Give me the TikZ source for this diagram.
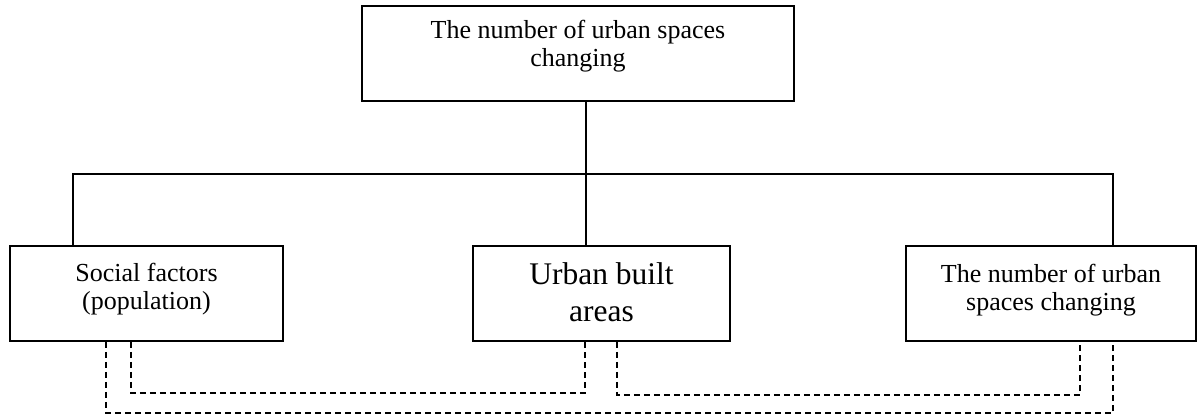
\documentclass[tikz,border=0pt]{standalone}
\usepackage{fontspec}
\setmainfont{Liberation Serif}
\begin{document}
\begin{tikzpicture}[x=1pt,y=-1pt,
  box/.style={draw, line width=1.6pt, rectangle, inner sep=0pt, minimum height=95pt},
  txt/.style={align=center, inner sep=0pt},
  small/.style={font=\fontsize{26}{28}\selectfont},
  big/.style={font=\fontsize{31.5}{37}\selectfont},
  tree/.style={line width=1.5pt},
  dashline/.style={line width=1.3pt, dash pattern=on 6pt off 4pt}]
\useasboundingbox (0,0) rectangle (1197,416);

% boxes
\node[box, minimum width=432pt] (top) at (578,53.5) {};
\node[box, minimum width=273pt] (left) at (146.5,293.5) {};
\node[box, minimum width=257pt] (mid) at (601.5,293.5) {};
\node[box, minimum width=290pt] (right) at (1051,293.5) {};

% labels
\node[txt, small] (topT) at (578,46) {The number of urban spaces\\changing};
\node[txt, small] (leftT) at (146.5,289.5) {Social factors\\(population)};
\node[txt, big] (midT) at (601.5,292) {Urban built\\areas};
\node[txt, small] (rightT) at (1051,290) {The number of urban\\spaces changing};

% solid tree connectors
\coordinate (hL) at (73,174);
\coordinate (hM) at (586,174);
\coordinate (hR) at (1113,174);
\draw[tree] (top.south -| hM) -- (mid.north -| hM);
\draw[tree] (left.north -| hL) -- (hL) -- (hR) -- (right.north -| hR);

% dashed links between the lower boxes
\coordinate (o1) at (106,413);
\coordinate (o2) at (1113,413);
\coordinate (a1) at (131,393);
\coordinate (a2) at (585,393);
\coordinate (b1) at (617,395);
\coordinate (b2) at (1080,395);
\draw[dashline] (left.south -| o1) -- (o1) -- (o2) -- (right.south -| o2);
\draw[dashline] (left.south -| a1) -- (a1) -- (a2) -- (mid.south -| a2);
\draw[dashline] (mid.south -| b1) -- (b1) -- (b2) -- (right.south -| b2);
\end{tikzpicture}
\end{document}
